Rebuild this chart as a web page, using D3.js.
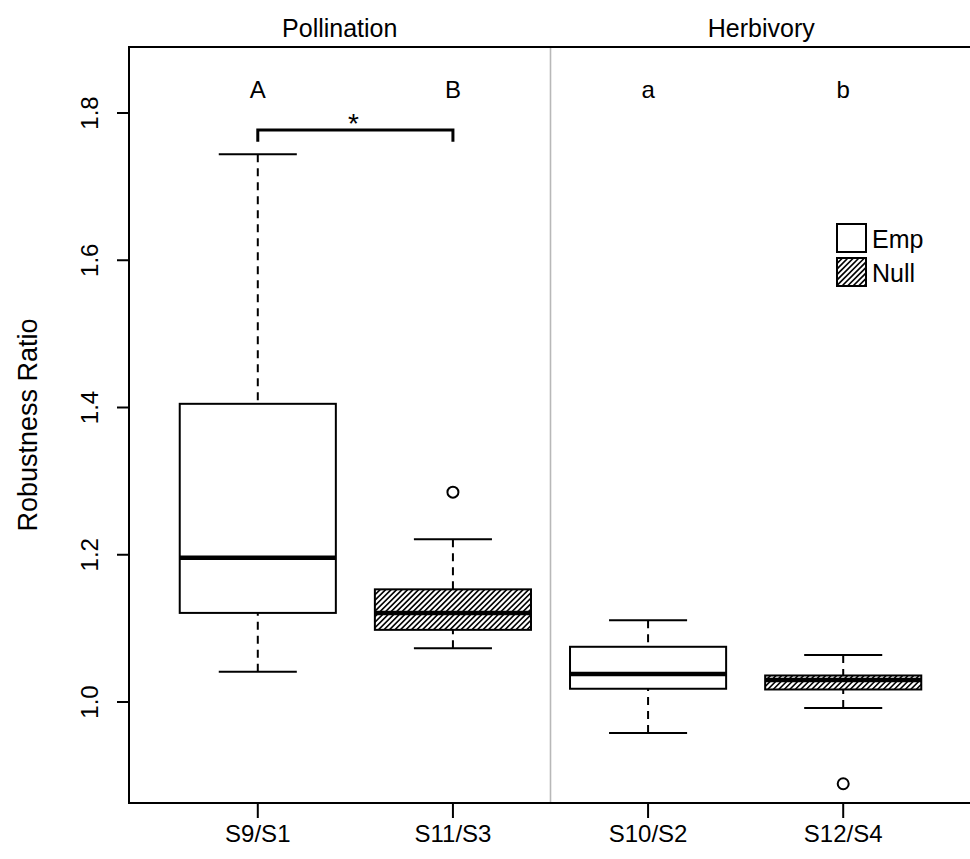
<!DOCTYPE html>
<html>
<head>
<meta charset="utf-8">
<script src="https://cdn.jsdelivr.net/npm/d3@7/dist/d3.min.js"></script>
<style>
  html, body { margin: 0; padding: 0; background: #fff; }
  svg { display: block; }
  text { font-family: "Liberation Sans", Arial, Helvetica, sans-serif; fill: #000; }
</style>
</head>
<body>
<div id="chart"></div>
<script>
// ---- Data ----
const categories = ["S9/S1", "S11/S3", "S10/S2", "S12/S4"];
const groups = ["Emp", "Null", "Emp", "Null"];
const whiskerLow = [1.041, 1.073, 0.958, 0.992];
const q1 = [1.121, 1.098, 1.018, 1.017];
const median = [1.196, 1.121, 1.038, 1.030];
const q3 = [1.405, 1.153, 1.075, 1.036];
const whiskerHigh = [1.744, 1.221, 1.111, 1.064];
const outliers = [[], [1.285], [], [0.889]];
const letters = ["A", "B", "a", "b"];
const panels = ["Pollination", "Herbivory"];
const legendLabels = ["Emp", "Null"];
const yTicks = [1.0, 1.2, 1.4, 1.6, 1.8];
const yLabel = "Robustness Ratio";
const bracketValue = 1.777;
const bracketTickValue = 1.761;
const starValue = 1.779;
const letterValue = 1.82;

// ---- Layout ----
const W = 970, H = 859;
const plot = { left: 129, top: 47, right: 972, bottom: 803 };

const svg = d3.select("#chart").append("svg")
  .attr("width", W).attr("height", H);

const x = d3.scaleLinear().domain([0.34, 4.66]).range([plot.left, plot.right]);
const y = d3.scaleLinear().domain([1.0, 1.8]).range([702, 113]);
const boxW = x(1.4) - x(1.0);
const capW = x(1.2) - x(1.0);

const defs = svg.append("defs");
let clipN = 0;
const HATCH_STEP = 5.5;

// draws a rectangle, hatched with "/" lines when group is Null
function hatchedRect(parent, rx, ry, rw, rh, group) {
  const g = parent.append("g");
  g.append("rect").attr("x", rx).attr("y", ry).attr("width", rw).attr("height", rh)
    .attr("fill", "#fff");
  if (group === "Null") {
    const id = "clip" + (clipN++);
    defs.append("clipPath").attr("id", id)
      .append("rect").attr("x", rx).attr("y", ry).attr("width", rw).attr("height", rh);
    const starts = d3.range(rx - rh, rx + rw + HATCH_STEP, HATCH_STEP);
    g.append("g").attr("clip-path", `url(#${id})`)
      .selectAll("line").data(starts).join("line")
      .attr("x1", d => d).attr("y1", ry + rh)
      .attr("x2", d => d + rh).attr("y2", ry)
      .attr("stroke", "#000").attr("stroke-width", 1.6);
  }
  g.append("rect").attr("x", rx).attr("y", ry).attr("width", rw).attr("height", rh)
    .attr("fill", "none").attr("stroke", "#000").attr("stroke-width", 2);
  return g;
}

// separator between panels
svg.append("line")
  .attr("x1", x(2.5)).attr("x2", x(2.5))
  .attr("y1", plot.top).attr("y2", plot.bottom)
  .attr("stroke", "#b8b8b8").attr("stroke-width", 1.6);

// frame
svg.append("rect")
  .attr("x", plot.left).attr("y", plot.top)
  .attr("width", plot.right - plot.left).attr("height", plot.bottom - plot.top)
  .attr("fill", "none").attr("stroke", "#000").attr("stroke-width", 2);

const data = categories.map((c, i) => ({
  c, i, pos: i + 1, g: groups[i],
  lo: whiskerLow[i], q1: q1[i], med: median[i], q3: q3[i], hi: whiskerHigh[i],
  out: outliers[i]
}));

const boxes = svg.append("g");
data.forEach(d => {
  const g = boxes.append("g");
  const cx = x(d.pos);
  [[d.hi, d.q3], [d.lo, d.q1]].forEach(([a, b]) => {
    g.append("line").attr("x1", cx).attr("x2", cx).attr("y1", y(a)).attr("y2", y(b))
      .attr("stroke", "#000").attr("stroke-width", 2).attr("stroke-dasharray", "8,6");
  });
  [d.hi, d.lo].forEach(v => {
    g.append("line").attr("x1", cx - capW).attr("x2", cx + capW)
      .attr("y1", y(v)).attr("y2", y(v))
      .attr("stroke", "#000").attr("stroke-width", 2);
  });
  hatchedRect(g, cx - boxW, y(d.q3), 2 * boxW, y(d.q1) - y(d.q3), d.g);
  g.append("line").attr("x1", cx - boxW).attr("x2", cx + boxW)
    .attr("y1", y(d.med)).attr("y2", y(d.med))
    .attr("stroke", "#000").attr("stroke-width", 4.5);
  g.selectAll("circle").data(d.out).join("circle")
    .attr("cx", cx).attr("cy", v => y(v)).attr("r", 5.5)
    .attr("fill", "none").attr("stroke", "#000").attr("stroke-width", 2);
});

// y axis
const yAxis = svg.append("g");
yAxis.append("line")
  .attr("x1", plot.left).attr("x2", plot.left)
  .attr("y1", y(yTicks[0])).attr("y2", y(yTicks[yTicks.length - 1]))
  .attr("stroke", "#000").attr("stroke-width", 2);
yAxis.selectAll("line.t").data(yTicks).join("line").attr("class", "t")
  .attr("x1", plot.left - 12).attr("x2", plot.left)
  .attr("y1", d => y(d)).attr("y2", d => y(d))
  .attr("stroke", "#000").attr("stroke-width", 2);
yAxis.selectAll("text").data(yTicks).join("text")
  .attr("transform", d => `translate(${plot.left - 31},${y(d)}) rotate(-90)`)
  .attr("text-anchor", "middle").attr("font-size", 24)
  .text(d => d3.format(".1f")(d));

// y label
svg.append("text")
  .attr("transform", `translate(37,${(plot.top + plot.bottom) / 2}) rotate(-90)`)
  .attr("text-anchor", "middle").attr("font-size", 27)
  .text(yLabel);

// x axis
const xAxis = svg.append("g");
xAxis.append("line")
  .attr("x1", x(1)).attr("x2", x(4))
  .attr("y1", plot.bottom).attr("y2", plot.bottom)
  .attr("stroke", "#000").attr("stroke-width", 2);
xAxis.selectAll("line.t").data(data).join("line").attr("class", "t")
  .attr("x1", d => x(d.pos)).attr("x2", d => x(d.pos))
  .attr("y1", plot.bottom).attr("y2", plot.bottom + 15)
  .attr("stroke", "#000").attr("stroke-width", 2);
xAxis.selectAll("text").data(data).join("text")
  .attr("x", d => x(d.pos)).attr("y", plot.bottom + 39)
  .attr("text-anchor", "middle").attr("font-size", 24)
  .text(d => d.c);

// panel headers
const panelCenters = [(x.range()[0] + x(2.5)) / 2, (x(2.5) + x.range()[1]) / 2];
svg.selectAll("text.panel").data(panels).join("text").attr("class", "panel")
  .attr("x", (d, i) => panelCenters[i]).attr("y", plot.top - 10)
  .attr("text-anchor", "middle").attr("font-size", 25)
  .text(d => d);

// group letters
svg.selectAll("text.letter").data(letters).join("text").attr("class", "letter")
  .attr("x", (d, i) => x(i + 1)).attr("y", y(letterValue))
  .attr("text-anchor", "middle").attr("font-size", 24)
  .text(d => d);

// significance bracket
svg.append("path")
  .attr("d", `M${x(1)},${y(bracketTickValue)} L${x(1)},${y(bracketValue)} L${x(2)},${y(bracketValue)} L${x(2)},${y(bracketTickValue)}`)
  .attr("fill", "none").attr("stroke", "#000").attr("stroke-width", 3);
svg.append("text")
  .attr("x", x(1.49)).attr("y", y(starValue) + 5)
  .attr("text-anchor", "middle").attr("font-size", 28)
  .text("*");

// legend
const lg = svg.append("g").attr("transform", `translate(837,224)`);
legendLabels.forEach((lab, i) => {
  hatchedRect(lg, 0, i * 34, 29, 28, lab);
  lg.append("text")
    .attr("x", 35).attr("y", i * 34 + 24)
    .attr("font-size", 25)
    .text(lab);
});
</script>
</body>
</html>
